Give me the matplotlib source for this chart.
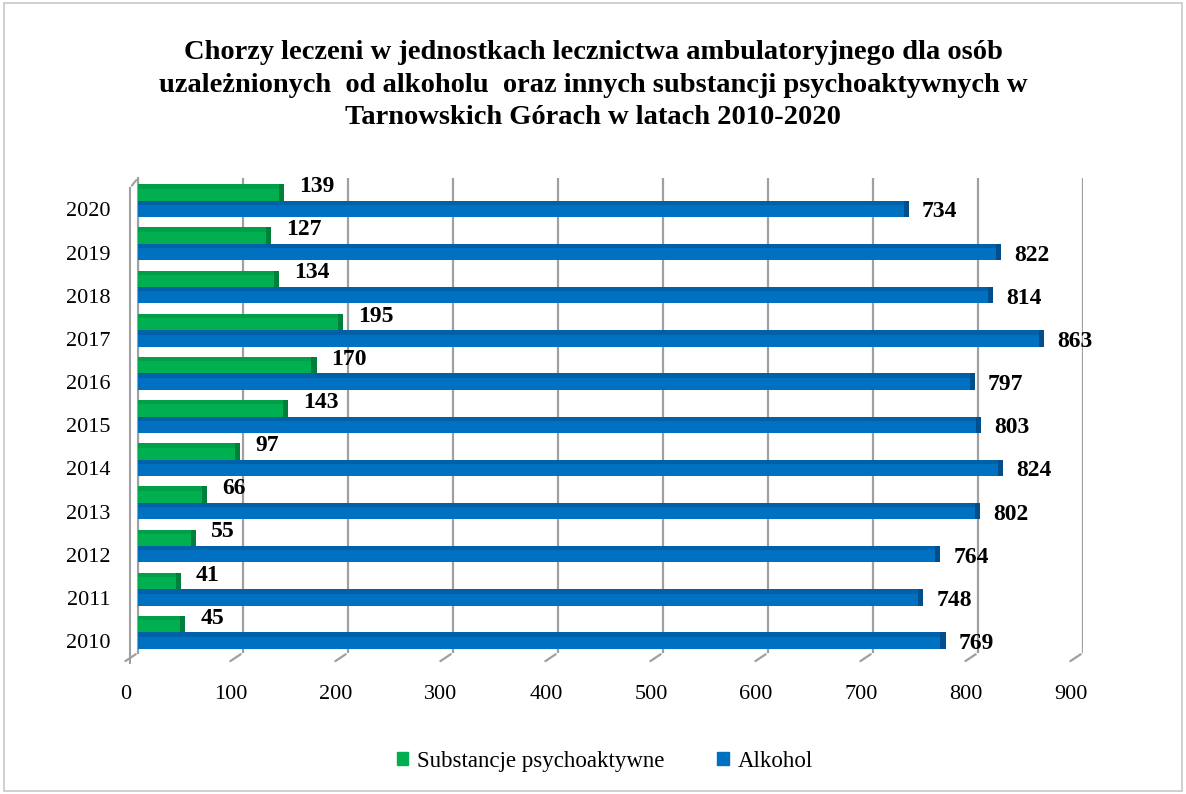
# Chorzy leczeni - wykres słupkowy poziomy (alkohol / substancje psychoaktywne)

import matplotlib
matplotlib.use('Agg')
import matplotlib.pyplot as plt
from matplotlib.transforms import ScaledTranslation, blended_transform_factory
from matplotlib.patches import Rectangle, Patch

# dane
years = ['2010', '2011', '2012', '2013', '2014', '2015', '2016', '2017', '2018', '2019', '2020']
substancje = [45, 41, 55, 66, 97, 143, 170, 195, 134, 127, 139]
alkohol = [769, 748, 764, 802, 824, 803, 797, 863, 814, 822, 734]
x_ticks = [0, 100, 200, 300, 400, 500, 600, 700, 800, 900]

title = ('Chorzy leczeni w jednostkach lecznictwa ambulatoryjnego dla osób\n'
         'uzależnionych  od alkoholu  oraz innych substancji psychoaktywnych w\n'
         'Tarnowskich Górach w latach 2010-2020')

green, green_dark = '#00b050', '#00803a'
blue, blue_dark = '#0070c0', '#004f8c'
grid_col = '#a0a0a0'

plt.rcParams['font.family'] = ['Liberation Serif', 'DejaVu Serif']

fig = plt.figure(figsize=(11.86, 7.94), dpi=100)
fig.patches.append(Rectangle((0.003, 0.004), 0.994, 0.992, transform=fig.transFigure,
                             fill=False, edgecolor='#c8c8c8', linewidth=1.2))

ax = fig.add_axes([0.1164, 0.178, 0.7968, 0.598])

pos = list(range(len(years)))
h = 0.38
cap = 5  # grubość "końcówki" 3D w jednostkach danych

ax.barh([p + h / 2 for p in pos], substancje, height=h, color=green, zorder=3)
ax.barh([p + h / 2 for p in pos], [cap] * len(pos), left=[v - cap for v in substancje],
        height=h, color=green_dark, zorder=3)
ax.barh([p + h - 0.05 for p in pos], substancje, height=0.1, color=green_dark, alpha=0.35, zorder=3)

ax.barh([p - h / 2 for p in pos], alkohol, height=h, color=blue, zorder=3)
ax.barh([p - h / 2 for p in pos], [cap] * len(pos), left=[v - cap for v in alkohol],
        height=h, color=blue_dark, zorder=3)
ax.barh([p - 0.05 for p in pos], alkohol, height=0.1, color=blue_dark, alpha=0.45, zorder=3)

# etykiety wartości
for p, v in zip(pos, substancje):
    ax.annotate(str(v), xy=(v, p + h / 2), xytext=(15, 6), textcoords='offset pixels',
                ha='left', va='center', fontsize=17, fontweight='bold', zorder=5)
for p, v in zip(pos, alkohol):
    ax.annotate(str(v), xy=(v, p - h / 2), xytext=(13, -3), textcoords='offset pixels',
                ha='left', va='center', fontsize=17, fontweight='bold', zorder=5)

ax.set_xlim(0, 900)
ax.set_ylim(-0.47, 10.53)

for s in ['top', 'right', 'bottom']:
    ax.spines[s].set_visible(False)
ax.spines['left'].set_color(grid_col)
ax.spines['left'].set_linewidth(1.5)

ax.set_xticks(x_ticks)
ax.xaxis.grid(True, color=grid_col, linewidth=1.6, zorder=0)
ax.set_axisbelow(True)
ax.tick_params(axis='x', length=0, pad=23, labelsize=16)
for lab in ax.get_xticklabels():
    lab.set_transform(lab.get_transform() + ScaledTranslation(-0.12, 0, fig.dpi_scale_trans))

ax.set_yticks([p - 0.2 for p in pos])
ax.set_yticklabels(years)
ax.tick_params(axis='y', length=0, pad=20, labelsize=16)

# efekt przestrzenny: ukośne kreski podstawy i przednia krawędź ściany
trans = blended_transform_factory(ax.transData, ax.transAxes)
for t in x_ticks:
    ax.annotate('', xy=(t, 0), xycoords=trans, xytext=(-15, -10), textcoords='offset pixels',
                arrowprops=dict(arrowstyle='-', color=grid_col, lw=1.6), annotation_clip=False)
ax.annotate('', xy=(0, 1), xycoords=trans, xytext=(-8, -10), textcoords='offset pixels',
            arrowprops=dict(arrowstyle='-', color=grid_col, lw=1.5), annotation_clip=False)
ax.plot([0, 0], [0, 1], transform=trans + ScaledTranslation(-0.08, -0.10, fig.dpi_scale_trans),
        color=grid_col, lw=1.5, clip_on=False)

fig.text(0.5, 0.949, title, ha='center', va='top', fontsize=20.5, fontweight='bold',
         linespacing=1.38)

handles = [Patch(color=green, label='Substancje psychoaktywne'), Patch(color=blue, label='Alkohol')]
fig.legend(handles=handles, loc='center', bbox_to_anchor=(0.51, 0.041), ncol=2, frameon=False,
           fontsize=16.5, handlelength=0.5, handleheight=0.5, handletextpad=0.4, columnspacing=2.3)

fig.savefig('out.png', dpi=100)
